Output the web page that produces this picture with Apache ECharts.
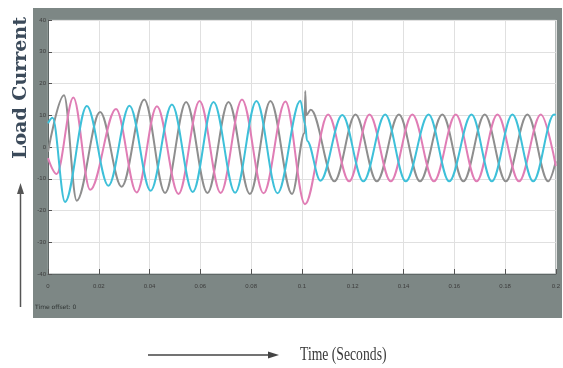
<!DOCTYPE html>
<html>
<head>
<meta charset="utf-8">
<script src="https://cdn.jsdelivr.net/npm/echarts@6/dist/echarts.min.js"></script>
<style>
  html, body { margin: 0; padding: 0; background: #fff; }
  #main { width: 563px; height: 368px; }
</style>
</head>
<body>
<div id="main"></div>
<script>
// peaks / troughs, [time s, current A]
var phaseGray = [
  [0, -1.5], [0.0063, 16.3], [0.0113, -16.9], [0.0205, 11.0], [0.0290, -12.5],
  [0.0379, 15.0], [0.0461, -14.5], [0.0544, 14.2], [0.0628, -14.5], [0.0711, 14.2],
  [0.0795, -14.8], [0.0876, 14.5], [0.0961, -14.8], [0.1011, 4.5], [0.1013, 17.6],
  [0.1017, 10.0], [0.1035, 11.7], [0.1128, -10.8], [0.1211, 10.2], [0.1295, -10.8],
  [0.1382, 10.2], [0.1465, -10.8], [0.1553, 10.2], [0.1636, -10.8], [0.1720, 10.2],
  [0.1803, -10.8], [0.1888, 10.2], [0.1970, -10.8], [0.2, -4.5]
];
var phasePink = [
  [0, -3.5], [0.0034, -8.5], [0.0100, 15.6], [0.0166, -13.5], [0.0268, 12.0],
  [0.0349, -14.3], [0.0429, 12.8], [0.0514, -14.8], [0.0597, 14.5], [0.0680, -14.5],
  [0.0764, 15.0], [0.0849, -14.6], [0.0935, 14.3], [0.1012, -18.0], [0.1103, 10.2],
  [0.1186, -10.8], [0.1266, 10.2], [0.1350, -10.8], [0.1435, 10.2], [0.1520, -10.8],
  [0.1606, 10.2], [0.1688, -10.8], [0.1770, 10.2], [0.1855, -10.8], [0.1941, 10.2],
  [0.2, -6.0]
];
var phaseCyan = [
  [0, 7.5], [0.0018, 9.2], [0.0067, -17.3], [0.0153, 12.9], [0.0238, -12.2],
  [0.0321, 13.0], [0.0404, -13.8], [0.0488, 13.4], [0.0570, -14.2], [0.0652, 14.2],
  [0.0737, -14.4], [0.0821, 14.5], [0.0904, -14.6], [0.0994, 14.6], [0.1013, 7.0],
  [0.1020, 2.0], [0.1073, -10.6], [0.1159, 10.1], [0.1242, -10.8], [0.1328, 10.2],
  [0.1409, -10.8], [0.1499, 10.2], [0.1580, -10.8], [0.1668, 10.2], [0.1748, -10.8],
  [0.1829, 10.2], [0.1911, -10.8], [0.1993, 10.2], [0.2, 10.1]
];
var yLabel = 'Load Current';
var xLabel = 'Time (Seconds)';
var offsetNote = 'Time offset: 0';

var chart = echarts.init(document.getElementById('main'));

function wave(name, data, color) {
  return {
    name: name,
    type: 'line',
    data: data,
    smooth: 0.35,
    smoothMonotone: 'x',
    showSymbol: false,
    lineStyle: { color: color, width: 2 },
    z: 3
  };
}

chart.setOption({
  animation: false,
  grid: {
    left: 48, right: 7, top: 20, bottom: 94,
    show: true, backgroundColor: '#ffffff', borderColor: '#9aa3a1', borderWidth: 1
  },
  xAxis: {
    type: 'value', min: 0, max: 0.2, interval: 0.02,
    axisLine: { show: true, onZero: false, lineStyle: { color: '#5f6766' } },
    axisTick: { show: true, inside: true, length: 5, lineStyle: { color: '#555' } },
    axisLabel: {
      fontSize: 6, color: '#3c3c3c', margin: 9,
      formatter: function (v) { return String(parseFloat(v.toFixed(2))); }
    },
    splitLine: { show: true, lineStyle: { color: '#e0e0e0', width: 1 } }
  },
  yAxis: {
    type: 'value', min: -40, max: 40, interval: 10,
    axisLine: { show: true, lineStyle: { color: '#5f6766' } },
    axisTick: { show: true, inside: true, length: 4, lineStyle: { color: '#555' } },
    axisLabel: { fontSize: 6, color: '#3c3c3c', margin: 2 },
    splitLine: { show: true, lineStyle: { color: '#e0e0e0', width: 1 } }
  },
  series: [
    wave('Phase B', phaseGray, '#8e8e8e'),
    wave('Phase A', phasePink, '#e07db5'),
    wave('Phase C', phaseCyan, '#3ec0d9')
  ],
  graphic: [
    { type: 'rect', z: -10, shape: { x: 33, y: 8, width: 529, height: 310 },
      style: { fill: '#7d8785' } },
    { type: 'text', x: 35, y: 307, z: 5,
      style: { text: offsetNote, font: '6px "DejaVu Sans"', fill: '#2f3433', verticalAlign: 'middle' } },
    { type: 'text', x: 21, y: 88, rotation: Math.PI / 2,
      style: { text: yLabel, font: 'bold 19px "DejaVu Serif"', fill: '#3b4a5a',
               align: 'center', verticalAlign: 'middle' } },
    { type: 'line', shape: { x1: 20.5, y1: 307, x2: 20.5, y2: 192 },
      style: { stroke: '#555', lineWidth: 1.5 } },
    { type: 'polygon', shape: { points: [[20.5, 183], [17, 194], [24, 194]] },
      style: { fill: '#555' } },
    { type: 'line', shape: { x1: 148, y1: 355, x2: 270, y2: 355 },
      style: { stroke: '#444', lineWidth: 1.5 } },
    { type: 'polygon', shape: { points: [[279, 355], [268, 351.5], [268, 358.5]] },
      style: { fill: '#444' } },
    { type: 'text', x: 300, y: 355, scaleX: 0.76,
      style: { text: xLabel, font: '18px "Liberation Serif"', fill: '#3a3a3a',
               align: 'left', verticalAlign: 'middle' } }
  ]
});
</script>
</body>
</html>
